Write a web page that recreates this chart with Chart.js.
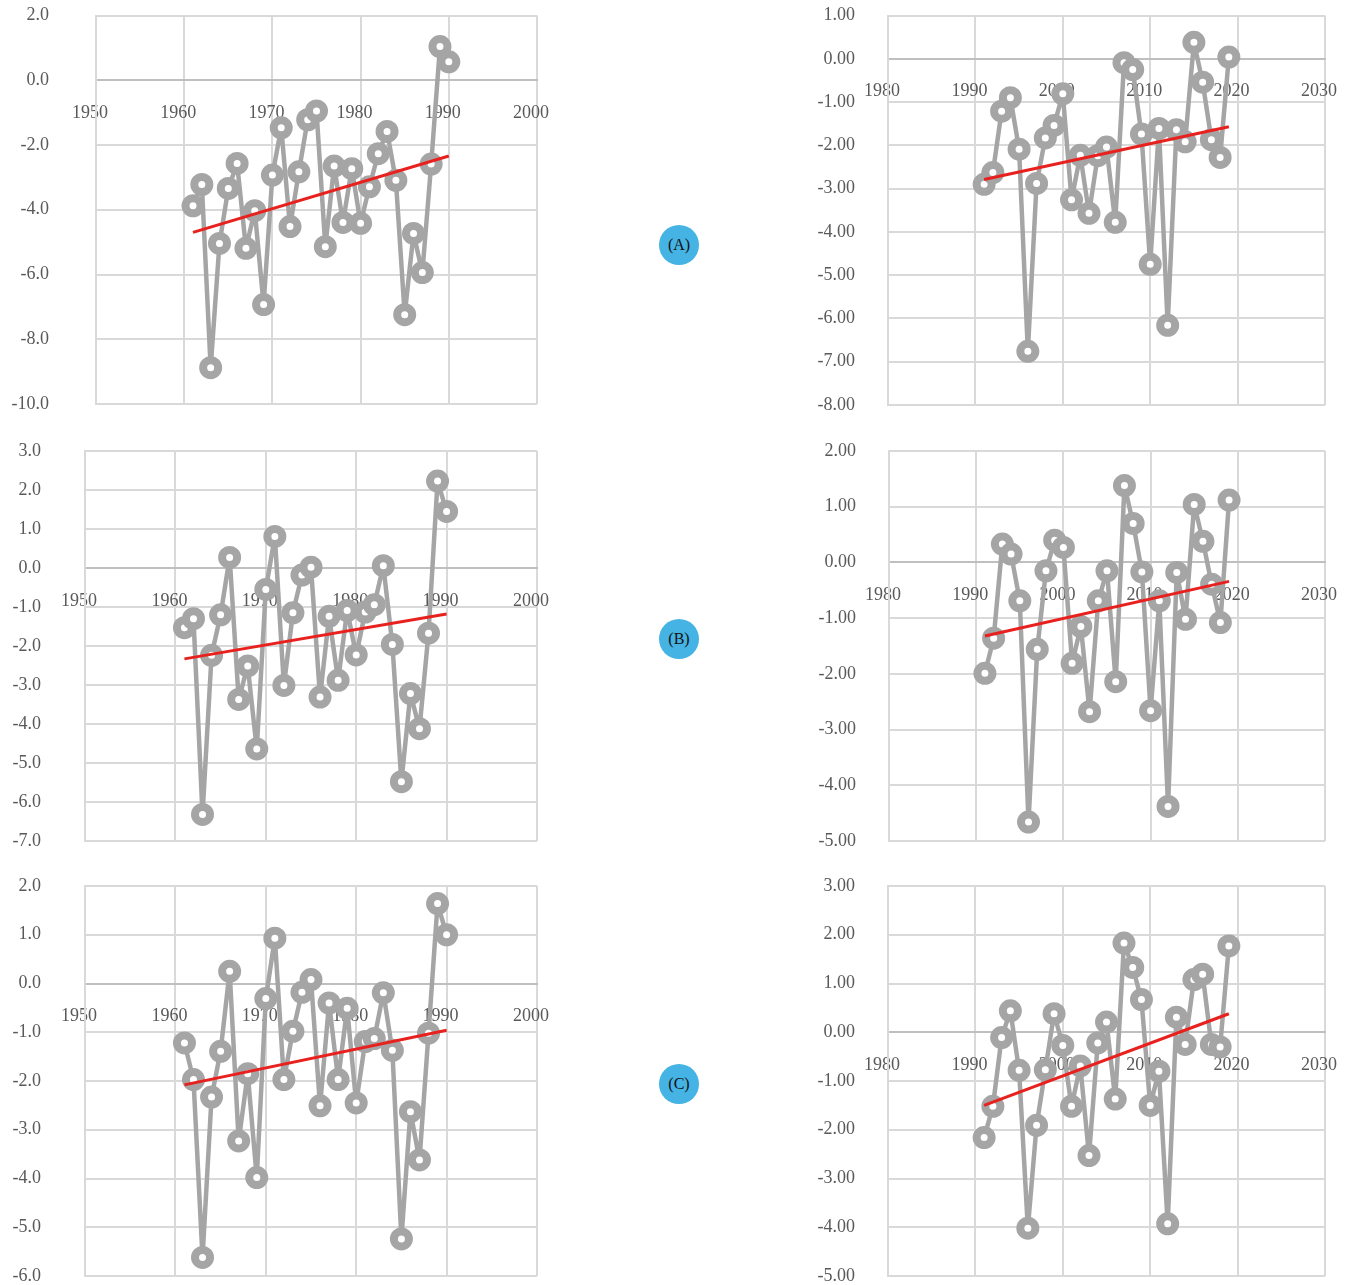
<!DOCTYPE html>
<html>
<head>
<meta charset="utf-8">
<script src="https://cdn.jsdelivr.net/npm/chart.js@4.4.1/dist/chart.umd.min.js"></script>
<style>
  html, body { margin: 0; padding: 0; background: #fff; }
  #page { position: relative; width: 1352px; height: 1285px; overflow: hidden; }
  .box { position: absolute; }
  .tag {
    position: absolute; width: 40px; height: 40px; border-radius: 50%;
    background: #45B3E3; color: #111; font: 16px "Liberation Serif", serif;
    display: flex; align-items: center; justify-content: center;
  }
</style>
</head>
<body>
<div id="page">
  <div class="box" id="wA1"><canvas id="cA1"></canvas></div>
  <div class="box" id="wA2"><canvas id="cA2"></canvas></div>
  <div class="box" id="wB1"><canvas id="cB1"></canvas></div>
  <div class="box" id="wB2"><canvas id="cB2"></canvas></div>
  <div class="box" id="wC1"><canvas id="cC1"></canvas></div>
  <div class="box" id="wC2"><canvas id="cC2"></canvas></div>
  <div class="tag" style="left:659px;top:225px">(A)</div>
  <div class="tag" style="left:659px;top:619px">(B)</div>
  <div class="tag" style="left:659px;top:1064px">(C)</div>
</div>
<script>
// years
const yearsEarly = [1961, 1962, 1963, 1964, 1965, 1966, 1967, 1968, 1969, 1970,
  1971, 1972, 1973, 1974, 1975, 1976, 1977, 1978, 1979, 1980,
  1981, 1982, 1983, 1984, 1985, 1986, 1987, 1988, 1989, 1990];
const yearsLate = [1991, 1992, 1993, 1994, 1995, 1996, 1997, 1998, 1999, 2000,
  2001, 2002, 2003, 2004, 2005, 2006, 2007, 2008, 2009, 2010,
  2011, 2012, 2013, 2014, 2015, 2016, 2017, 2018, 2019];

// (A)
const valuesA1 = [-3.88, -3.22, -8.88, -5.04, -3.34, -2.57, -5.19, -4.03, -6.93, -2.93,
  -1.47, -4.52, -2.83, -1.22, -0.95, -5.14, -2.65, -4.39, -2.73, -4.42,
  -3.29, -2.27, -1.58, -3.09, -7.24, -4.73, -5.94, -2.59, 1.04, 0.57];
const valuesA2 = [-2.90, -2.63, -1.21, -0.90, -2.09, -6.76, -2.88, -1.83, -1.54, -0.81,
  -3.26, -2.23, -3.57, -2.24, -2.04, -3.78, -0.09, -0.25, -1.74, -4.75,
  -1.61, -6.16, -1.64, -1.92, 0.38, -0.54, -1.87, -2.28, 0.04];
// (B)
const valuesB1 = [-1.53, -1.30, -6.32, -2.24, -1.20, 0.27, -3.37, -2.51, -4.64, -0.55,
  0.81, -3.01, -1.15, -0.18, 0.02, -3.31, -1.24, -2.88, -1.09, -2.23,
  -1.13, -0.94, 0.06, -1.96, -5.48, -3.22, -4.12, -1.67, 2.23, 1.45];
const valuesB2 = [-1.99, -1.36, 0.33, 0.15, -0.69, -4.66, -1.56, -0.15, 0.40, 0.27,
  -1.81, -1.15, -2.68, -0.69, -0.15, -2.14, 1.38, 0.70, -0.17, -2.66,
  -0.69, -4.38, -0.18, -1.02, 1.04, 0.38, -0.39, -1.08, 1.12];
// (C)
const valuesC1 = [-1.22, -1.97, -5.62, -2.33, -1.39, 0.25, -3.23, -1.85, -3.98, -0.31,
  0.93, -1.97, -0.98, -0.18, 0.08, -2.51, -0.40, -1.97, -0.51, -2.45,
  -1.19, -1.13, -0.19, -1.37, -5.24, -2.63, -3.62, -1.02, 1.64, 1.00];
const valuesC2 = [-2.16, -1.52, -0.11, 0.44, -0.78, -4.02, -1.91, -0.77, 0.38, -0.27,
  -1.52, -0.69, -2.53, -0.22, 0.21, -1.37, 1.83, 1.33, 0.67, -1.50,
  -0.80, -3.93, 0.31, -0.25, 1.08, 1.19, -0.25, -0.30, 1.77];

// trend line end points
const trendYearsEarly = [1961, 1990];
const trendYearsLate = [1991, 2019];
const trendA1 = [-4.70, -2.34];
const trendA2 = [-2.79, -1.57];
const trendB1 = [-2.33, -1.18];
const trendB2 = [-1.32, -0.34];
const trendC1 = [-2.08, -0.96];
const trendC2 = [-1.50, 0.38];

const GREY = '#A5A5A5';
const GRID = '#D9D9D9';
const TEXT = '#595959';
const FONT = { family: '"Liberation Serif", "Times New Roman", serif', size: 18 };

function makeChart(id, g, years, values, trendYears, trend, yMin, yMax, yStep, digits, xMin, xMax) {
  const wrap = document.getElementById('w' + id);
  wrap.style.left = g.left + 'px';
  wrap.style.top = g.top + 'px';
  wrap.style.width = g.width + 'px';
  wrap.style.height = g.height + 'px';
  const yAxisW = g.plotLeft - g.left;

  new Chart(document.getElementById('c' + id), {
    type: 'scatter',
    data: {
      datasets: [
        {
          data: years.map((yr, i) => ({ x: yr, y: values[i] })),
          showLine: true,
          borderColor: GREY,
          borderWidth: 4.5,
          borderJoinStyle: 'round',
          borderCapStyle: 'round',
          pointRadius: 7.5,
          pointBorderWidth: 8,
          pointBorderColor: GREY,
          pointBackgroundColor: '#fff',
          order: 2
        },
        {
          data: trendYears.map((yr, i) => ({ x: yr, y: trend[i] })),
          showLine: true,
          borderColor: '#E8211E',
          borderWidth: 3,
          pointRadius: 0,
          order: 1
        }
      ]
    },
    options: {
      responsive: true,
      maintainAspectRatio: false,
      animation: false,
      events: [],
      layout: {
        padding: {
          left: 0,
          top: g.plotTop - g.top,
          right: g.left + g.width - g.plotRight,
          bottom: g.top + g.height - g.plotBottom
        }
      },
      scales: {
        x: {
          type: 'linear',
          position: { y: 0 },
          min: xMin, max: xMax,
          // keep the axis out of the layout, it sits on the zero line
          afterFit: s => { s.height = 0; s.paddingLeft = 0; s.paddingRight = 0; },
          grid: { color: GRID, lineWidth: 2, drawTicks: false },
          border: { color: '#BFBFBF', width: 2 },
          ticks: {
            stepSize: 10, padding: 22, labelOffset: -6, maxRotation: 0,
            color: TEXT, font: FONT,
            callback: v => String(v)
          }
        },
        y: {
          type: 'linear',
          min: yMin, max: yMax,
          afterFit: s => { s.width = yAxisW; s.paddingTop = 0; s.paddingBottom = 0; },
          grid: { color: GRID, lineWidth: 2, drawTicks: false },
          border: { color: GRID, width: 2 },
          ticks: {
            stepSize: yStep, padding: g.labelPad,
            color: TEXT, font: FONT,
            callback: v => v.toFixed(digits)
          }
        }
      },
      plugins: { legend: { display: false }, tooltip: { enabled: false } }
    }
  });
}

makeChart('A1', { left: 0, top: 0, width: 560, height: 428, plotLeft: 96, plotTop: 15, plotRight: 537, plotBottom: 404, labelPad: 47 },
  yearsEarly, valuesA1, trendYearsEarly, trendA1, -10, 2, 2, 1, 1950, 2000);
makeChart('A2', { left: 780, top: 0, width: 572, height: 428, plotLeft: 888, plotTop: 15, plotRight: 1325, plotBottom: 405, labelPad: 33 },
  yearsLate, valuesA2, trendYearsLate, trendA2, -8, 1, 1, 2, 1980, 2030);
makeChart('B1', { left: 0, top: 430, width: 560, height: 428, plotLeft: 85, plotTop: 451, plotRight: 537, plotBottom: 841, labelPad: 44 },
  yearsEarly, valuesB1, trendYearsEarly, trendB1, -7, 3, 1, 1, 1950, 2000);
makeChart('B2', { left: 780, top: 430, width: 572, height: 428, plotLeft: 889, plotTop: 451, plotRight: 1325, plotBottom: 841, labelPad: 33 },
  yearsLate, valuesB2, trendYearsLate, trendB2, -5, 2, 1, 2, 1980, 2030);
makeChart('C1', { left: 0, top: 865, width: 560, height: 432, plotLeft: 85, plotTop: 886, plotRight: 537, plotBottom: 1276, labelPad: 44 },
  yearsEarly, valuesC1, trendYearsEarly, trendC1, -6, 2, 1, 1, 1950, 2000);
makeChart('C2', { left: 780, top: 865, width: 572, height: 432, plotLeft: 888, plotTop: 886, plotRight: 1325, plotBottom: 1276, labelPad: 33 },
  yearsLate, valuesC2, trendYearsLate, trendC2, -5, 3, 1, 2, 1980, 2030);
</script>
</body>
</html>
